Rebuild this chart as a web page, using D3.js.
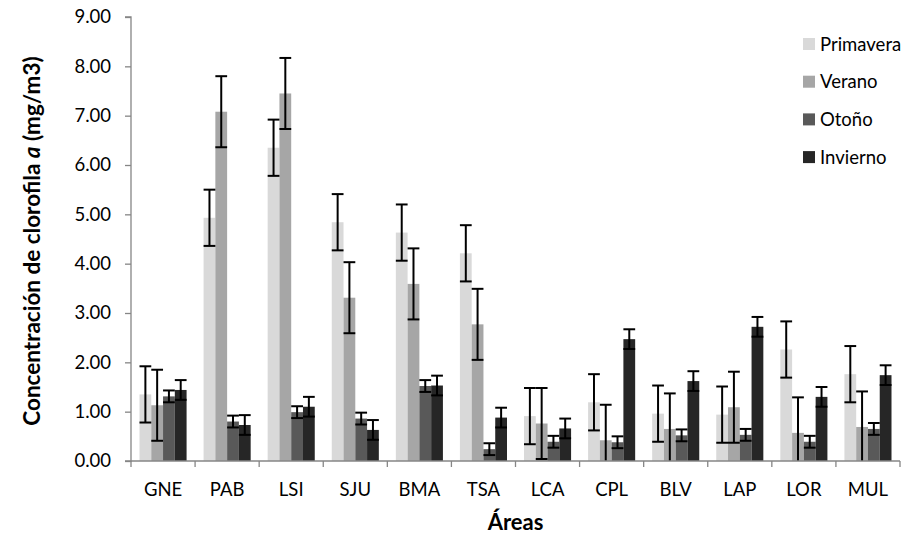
<!DOCTYPE html>
<html>
<head>
<meta charset="utf-8">
<script src="https://cdn.jsdelivr.net/npm/d3@7"></script>
<style>
  html, body { margin: 0; padding: 0; background: #fff; }
  svg { display: block; font-family: Lato, "Open Sans", sans-serif; }
</style>
</head>
<body>
<svg id="chart" width="911" height="539"></svg>
<script>
// Study areas along the x axis
const areas = ["GNE", "PAB", "LSI", "SJU", "BMA", "TSA", "LCA", "CPL", "BLV", "LAP", "LOR", "MUL"];

// Seasons and their fill colours
const seasons = ["Primavera", "Verano", "Otoño", "Invierno"];
const seasonColors = ["#d9d9d9", "#a6a6a6", "#595959", "#262626"];

// Mean chlorophyll a concentration (mg/m3) per season, one value per area
const primavera = [1.35, 4.93, 6.35, 4.84, 4.63, 4.21, 0.91, 1.19, 0.96, 0.94, 2.26, 1.76];
const verano    = [1.13, 7.08, 7.45, 3.31, 3.59, 2.77, 0.76, 0.42, 0.65, 1.09, 0.57, 0.69];
const otono     = [1.31, 0.80, 0.99, 0.86, 1.52, 0.24, 0.39, 0.38, 0.52, 0.53, 0.39, 0.65];
const invierno  = [1.44, 0.73, 1.10, 0.63, 1.53, 0.88, 0.66, 2.47, 1.62, 2.72, 1.30, 1.74];

// Error bar half-width for each season (mg/m3)
const seasonErrors = [0.57, 0.72, 0.12, 0.20];

// Y axis ticks
const yTicks = [0, 1, 2, 3, 4, 5, 6, 7, 8, 9];

const seriesValues = [primavera, verano, otono, invierno];

const svg = d3.select("#chart");
const plot = { left: 131, right: 900, top: 17, bottom: 461 };
const axisColor = "#868686";

const x = d3.scaleBand().domain(areas).range([plot.left, plot.right]).padding(0);
const xInner = d3.scaleBand().domain(seasons)
  .range([8.5, x.bandwidth() - 8.5]).padding(0);
const y = d3.scaleLinear().domain([0, 9]).range([plot.bottom, plot.top]);

// Bars
const rows = [];
areas.forEach((a, i) => {
  seasons.forEach((s, j) => {
    rows.push({ area: a, season: s, si: j, value: seriesValues[j][i], err: seasonErrors[j] });
  });
});

svg.append("g").selectAll("rect").data(rows).join("rect")
  .attr("x", d => x(d.area) + xInner(d.season))
  .attr("y", d => y(d.value))
  .attr("width", xInner.bandwidth())
  .attr("height", d => y(0) - y(d.value))
  .attr("fill", d => seasonColors[d.si]);

// Error bars
const eb = svg.append("g").attr("stroke", "#000").attr("stroke-width", 2).attr("fill", "none");
rows.forEach(d => {
  const cx = x(d.area) + xInner(d.season) + xInner.bandwidth() / 2;
  const hi = d.value + d.err;
  const lo = Math.max(0, d.value - d.err);
  const cap = xInner.bandwidth() / 2;
  eb.append("line").attr("x1", cx).attr("x2", cx).attr("y1", y(hi)).attr("y2", y(lo));
  eb.append("line").attr("x1", cx - cap).attr("x2", cx + cap).attr("y1", y(hi)).attr("y2", y(hi));
  if (d.value - d.err > 0) {
    eb.append("line").attr("x1", cx - cap).attr("x2", cx + cap).attr("y1", y(lo)).attr("y2", y(lo));
  }
});

// Y axis
const yAxis = d3.axisLeft(y).tickValues(yTicks).tickFormat(d3.format(".2f")).tickSize(6).tickPadding(14);
const gy = svg.append("g").attr("transform", `translate(${plot.left},0)`).call(yAxis);
gy.select(".domain").attr("stroke", axisColor).attr("stroke-width", 1.3).attr("d", `M-6,${plot.top}H0V${plot.bottom}H-6`);
gy.selectAll(".tick line").attr("stroke", axisColor).attr("stroke-width", 1.3);
gy.selectAll(".tick text").attr("fill", "#000").style("font-size", "18.5px").style("font-family", "Lato, sans-serif");

// X axis with tick marks at category boundaries
const gx = svg.append("g").attr("transform", `translate(0,${plot.bottom})`);
gx.append("line").attr("x1", plot.left).attr("x2", plot.right).attr("y1", 0).attr("y2", 0)
  .attr("stroke", axisColor).attr("stroke-width", 1.3);
const bounds = areas.map(a => x(a)).concat([plot.right]);
gx.selectAll("line.tk").data(bounds).join("line").attr("class", "tk")
  .attr("x1", d => d).attr("x2", d => d).attr("y1", 0).attr("y2", 6)
  .attr("stroke", axisColor).attr("stroke-width", 1.3);
gx.selectAll("text").data(areas).join("text")
  .attr("x", d => x(d) + x.bandwidth() / 2)
  .attr("y", 35)
  .attr("text-anchor", "middle")
  .style("font-size", "18.5px")
  .text(d => d);

// Axis titles
svg.append("text")
  .attr("x", (plot.left + plot.right) / 2)
  .attr("y", 530)
  .attr("text-anchor", "middle")
  .style("font-size", "22px").style("font-weight", "bold")
  .text("Áreas");

const yt = svg.append("text")
  .attr("transform", `translate(40,${(plot.top + plot.bottom) / 2 + 2}) rotate(-90)`)
  .attr("text-anchor", "middle")
  .style("font-size", "22.5px").style("font-weight", "bold");
yt.append("tspan").text("Concentración de clorofila ");
yt.append("tspan").style("font-style", "italic").text("a");
yt.append("tspan").text(" (mg/m3)");

// Legend
const lg = svg.append("g").attr("transform", "translate(803,38)");
seasons.forEach((s, j) => {
  const g = lg.append("g").attr("transform", `translate(0,${j * 37.7})`);
  g.append("rect").attr("width", 12).attr("height", 12).attr("fill", seasonColors[j]);
  g.append("text").attr("x", 17).attr("y", 12.5).style("font-size", "18.5px").text(s);
});
</script>
</body>
</html>
